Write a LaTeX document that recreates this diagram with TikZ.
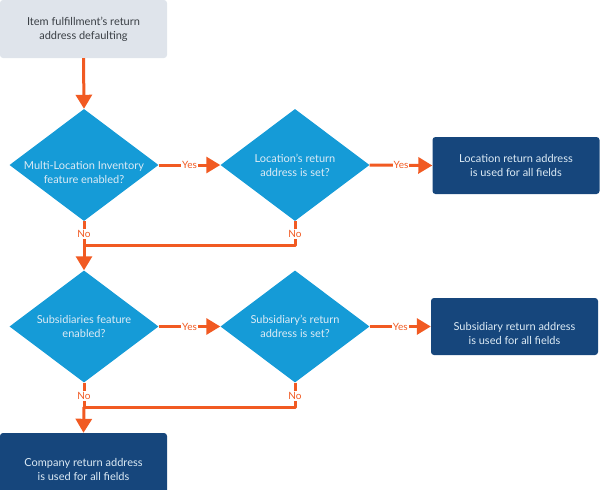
\documentclass[tikz,border=0pt]{standalone}
\usepackage{fontspec}
\setmainfont{Lato}
\usetikzlibrary{shapes.geometric,arrows.meta}
\definecolor{greybox}{HTML}{DFE4EB}
\definecolor{greytext}{HTML}{3A3F45}
\definecolor{dblue}{HTML}{16467C}
\definecolor{lblue}{HTML}{159BD7}
\definecolor{orng}{HTML}{F15A22}
\definecolor{ltext}{HTML}{DDEBF5}
\tikzset{
  startbox/.style={draw=none,fill=greybox,rounded corners=3pt,minimum width=167,minimum height=58,inner sep=0,align=center,text=greytext,font=\fontsize{11}{14}\selectfont},
  endbox/.style={draw=none,fill=dblue,rounded corners=3pt,minimum width=167,minimum height=57,inner sep=0},
  dshape/.style={diamond,draw=none,fill=lblue,minimum width=149,minimum height=112,inner sep=0},
  btext/.style={align=center,text=ltext,font=\fontsize{11}{14}\selectfont,inner sep=0},
  flow/.style={draw=orng,line width=3pt},
  flowarrow/.style={flow,-{Triangle[length=14pt,width=16pt]}},
  yn/.style={fill=white,text=orng,font=\fontsize{10}{11}\selectfont,inner sep=1pt}
}
\begin{document}
\begin{tikzpicture}[x=1pt,y=-1pt]
\useasboundingbox (0,0) rectangle (600,490);
% start
\node[startbox] (start) at (83.5,29) {Item fulfillment's return\\address defaulting};
% diamonds
\node[dshape] (d1) at (84,165) {};
\node[btext] (t1) at (84,172) {Multi-Location Inventory\\feature enabled?};
\node[dshape] (d2) at (295,165) {};
\node[btext] (t2) at (295,165) {Location's return\\address is set?};
\node[dshape] (d3) at (84,326.5) {};
\node[btext] (t3) at (84,326.5) {Subsidiaries feature\\enabled?};
\node[dshape] (d4) at (295,326.5) {};
\node[btext] (t4) at (295,326) {Subsidiary's return\\address is set?};
% end boxes
\node[endbox] (e1) at (516,165.5) {};
\node[btext] (te1) at (516,165.5) {Location return address\\is used for all fields};
\node[endbox] (e2) at (514.5,326.5) {};
\node[btext] (te2) at (514.5,333) {Subsidiary return address\\is used for all fields};
\node[endbox,minimum height=72] (e3) at (83.5,469) {};
\node[btext] (te3) at (83.5,469) {Company return address\\is used for all fields};
% coordinates
\coordinate (j1) at (84,245);
\coordinate (k1) at (295,245);
\coordinate (j2) at (84,407);
\coordinate (k2) at (295,407);
% connectors
\draw[flowarrow] (start.south) -- (d1.north);
\draw[flowarrow] (d1.east) -- node[yn] {Yes} (d2.west);
\draw[flowarrow] (d2.east) -- node[yn] {Yes} (e1.west);
\draw[flow] (d1.south) -- (j1);
\draw[flow,line join=round] (d2.south) -- (k1) -- (j1);
\node[yn] (n1) at (84,234) {No};
\node[yn] (n2) at (295,234) {No};
\draw[flowarrow] (j1) -- (d3.north);
\draw[flowarrow] (d3.east) -- node[yn] {Yes} (d4.west);
\draw[flowarrow] (d4.east) -- node[yn] {Yes} (e2.west);
\draw[flow] (d3.south) -- (j2);
\draw[flow,line join=round] (d4.south) -- (k2) -- (j2);
\node[yn] (n3) at (84,396) {No};
\node[yn] (n4) at (295,396) {No};
\draw[flowarrow] (j2) -- (e3.north);
\end{tikzpicture}
\end{document}
